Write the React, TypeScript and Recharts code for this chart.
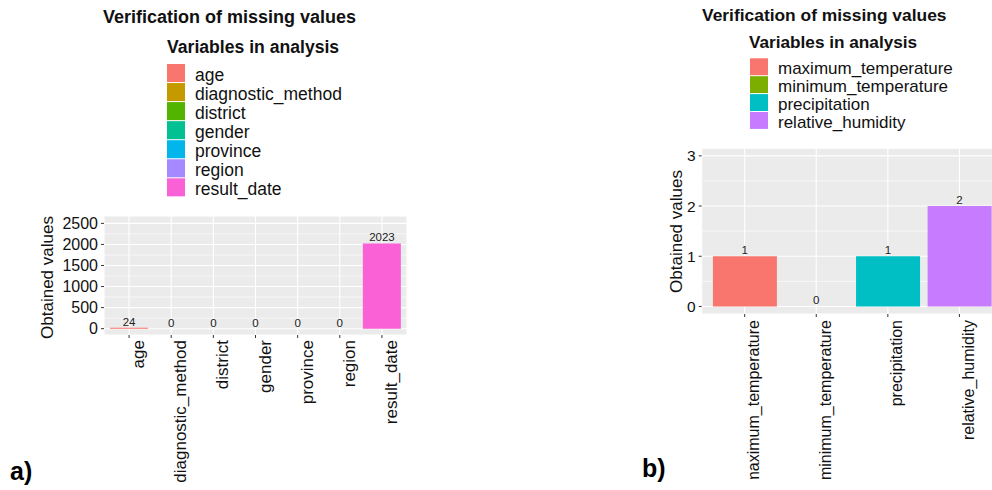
import { ComposedChart, Bar, Line, XAxis, YAxis, CartesianGrid, Cell, LabelList } from 'recharts';

const FONT = '"Liberation Sans", Arial, sans-serif';

// panel a: socio-demographic variables
const varsA = ['age', 'diagnostic_method', 'district', 'gender', 'province', 'region', 'result_date'];
const missingA = [24, 0, 0, 0, 0, 0, 2023];
const colorsA = ['#F8766D', '#C49A00', '#53B400', '#00C094', '#00B6EB', '#A58AFF', '#FB61D7'];
const ticksA = [0, 500, 1000, 1500, 2000, 2500];
const minorA = [250, 750, 1250, 1750, 2250];

// panel b: climate variables
const varsB = ['maximum_temperature', 'minimum_temperature', 'precipitation', 'relative_humidity'];
const missingB = [1, 0, 1, 2];
const colorsB = ['#F8766D', '#7CAE00', '#00BFC4', '#C77CFF'];
const ticksB = [0, 1, 2, 3];
const minorB = [0.5, 1.5, 2.5];

const dataA = varsA.map((name, i) => ({ name, value: missingA[i] }));
const dataB = varsB.map((name, i) => ({ name, value: missingB[i] }));

function RotatedTick({ x, y, payload, shift, size }: any) {
  return (
    <g transform={`translate(${x + shift},${y}) rotate(-90)`}>
      <text x={0} y={0} textAnchor="end" fontSize={size} fill="#111" fontFamily={FONT}>
        {payload.value}
      </text>
    </g>
  );
}

function Legend({ x, y, step, names, colors, size }: any) {
  return (
    <g>
      {names.map((n: string, i: number) => (
        <g key={n}>
          <rect x={x} y={y + i * step} width={18} height={step - 1} fill={colors[i]} />
          <text x={x + 28} y={y + i * step + step / 2 + 7} fontSize={size} fill="#111" fontFamily={FONT}>
            {n}
          </text>
        </g>
      ))}
    </g>
  );
}

export default function App() {
  return (
    <div style={{ position: 'absolute', left: 0, top: 0, width: 992, height: 490, overflow: 'hidden', background: '#fff' }}>
      <div style={{ position: 'absolute', left: 0, top: 200 }}>
        <ComposedChart width={420} height={290} data={dataA} margin={{ top: 16, right: 13, bottom: 5, left: 44 }}>
          <CartesianGrid fill="#EBEBEB" stroke="#fff" strokeWidth={0.6} vertical={false} horizontalValues={minorA} />
          <CartesianGrid stroke="#fff" strokeWidth={1.1} />
          <XAxis dataKey="name" interval={0} height={150} tickSize={3} tickMargin={2} padding={{ left: 4, right: 4 }}
            axisLine={false} tickLine={{ stroke: '#333' }} tick={<RotatedTick shift={15} size={17} />} />
          <YAxis type="number" domain={[-150, 2675]} allowDataOverflow ticks={ticksA} interval={0} width={60} tickSize={3} tickMargin={3}
            axisLine={false} tickLine={{ stroke: '#333' }} tick={{ fontSize: 16, fill: '#111', fontFamily: FONT }} />
          <Bar dataKey="value" barSize={38} isAnimationActive={false}>
            {dataA.map((d, i) => <Cell key={d.name} fill={colorsA[i]} />)}
          </Bar>
          <Line dataKey="value" stroke="none" dot={false} activeDot={false} isAnimationActive={false}>
            <LabelList dataKey="value" position="top" offset={2} fontSize={11.5} fill="#222" fontFamily={FONT} />
          </Line>
        </ComposedChart>
      </div>

      <div style={{ position: 'absolute', left: 620, top: 140, width: 400, height: 339, overflow: 'hidden' }}>
        <ComposedChart width={400} height={350} data={dataB} margin={{ top: 8.3, right: 17.6, bottom: 5, left: 21.7 }}>
          <CartesianGrid fill="#EBEBEB" stroke="#fff" strokeWidth={0.6} vertical={false} horizontalValues={minorB} />
          <CartesianGrid stroke="#fff" strokeWidth={1.1} />
          <XAxis dataKey="name" interval={0} height={171} tickSize={3} tickMargin={3} padding={{ left: 7.2, right: 7.2 }}
            axisLine={false} tickLine={{ stroke: '#333' }} tick={<RotatedTick shift={14.5} size={16} />} />
          <YAxis type="number" domain={[-0.15, 3.15]} allowDataOverflow ticks={ticksB} interval={0} width={60} tickSize={3} tickMargin={3}
            axisLine={false} tickLine={{ stroke: '#333' }} tick={{ fontSize: 15.5, fill: '#111', fontFamily: FONT }} />
          <Bar dataKey="value" barSize={64} isAnimationActive={false}>
            {dataB.map((d, i) => <Cell key={d.name} fill={colorsB[i]} />)}
          </Bar>
          <Line dataKey="value" stroke="none" dot={false} activeDot={false} isAnimationActive={false}>
            <LabelList dataKey="value" position="top" offset={2} fontSize={11.5} fill="#222" fontFamily={FONT} />
          </Line>
        </ComposedChart>
      </div>

      <svg width={992} height={490} style={{ position: 'absolute', left: 0, top: 0, pointerEvents: 'none' }}>
        <text x={103} y={22.7} fontSize={18} fontWeight="bold" fill="#111" fontFamily={FONT}>Verification of missing values</text>
        <text x={167} y={53.3} fontSize={17.6} fontWeight="bold" fill="#111" fontFamily={FONT}>Variables in analysis</text>
        <Legend x={167} y={64} step={19.05} names={varsA} colors={colorsA} size={17.5} />
        <text transform="translate(53,277.5) rotate(-90)" textAnchor="middle" fontSize={17} fill="#111" fontFamily={FONT}>Obtained values</text>
        <text x={10} y={480} fontSize={25} fontWeight="bold" fill="#000" fontFamily={FONT}>a)</text>

        <text x={702} y={20.7} fontSize={17.4} fontWeight="bold" fill="#111" fontFamily={FONT}>Verification of missing values</text>
        <text x={749} y={48.3} fontSize={17.2} fontWeight="bold" fill="#111" fontFamily={FONT}>Variables in analysis</text>
        <Legend x={750} y={58.3} step={17.9} names={varsB} colors={colorsB} size={17} />
        <text transform="translate(681.5,231.5) rotate(-90)" textAnchor="middle" fontSize={17} fill="#111" fontFamily={FONT}>Obtained values</text>
        <text x={642} y={477} fontSize={25} fontWeight="bold" fill="#000" fontFamily={FONT}>b)</text>
      </svg>
    </div>
  );
}
